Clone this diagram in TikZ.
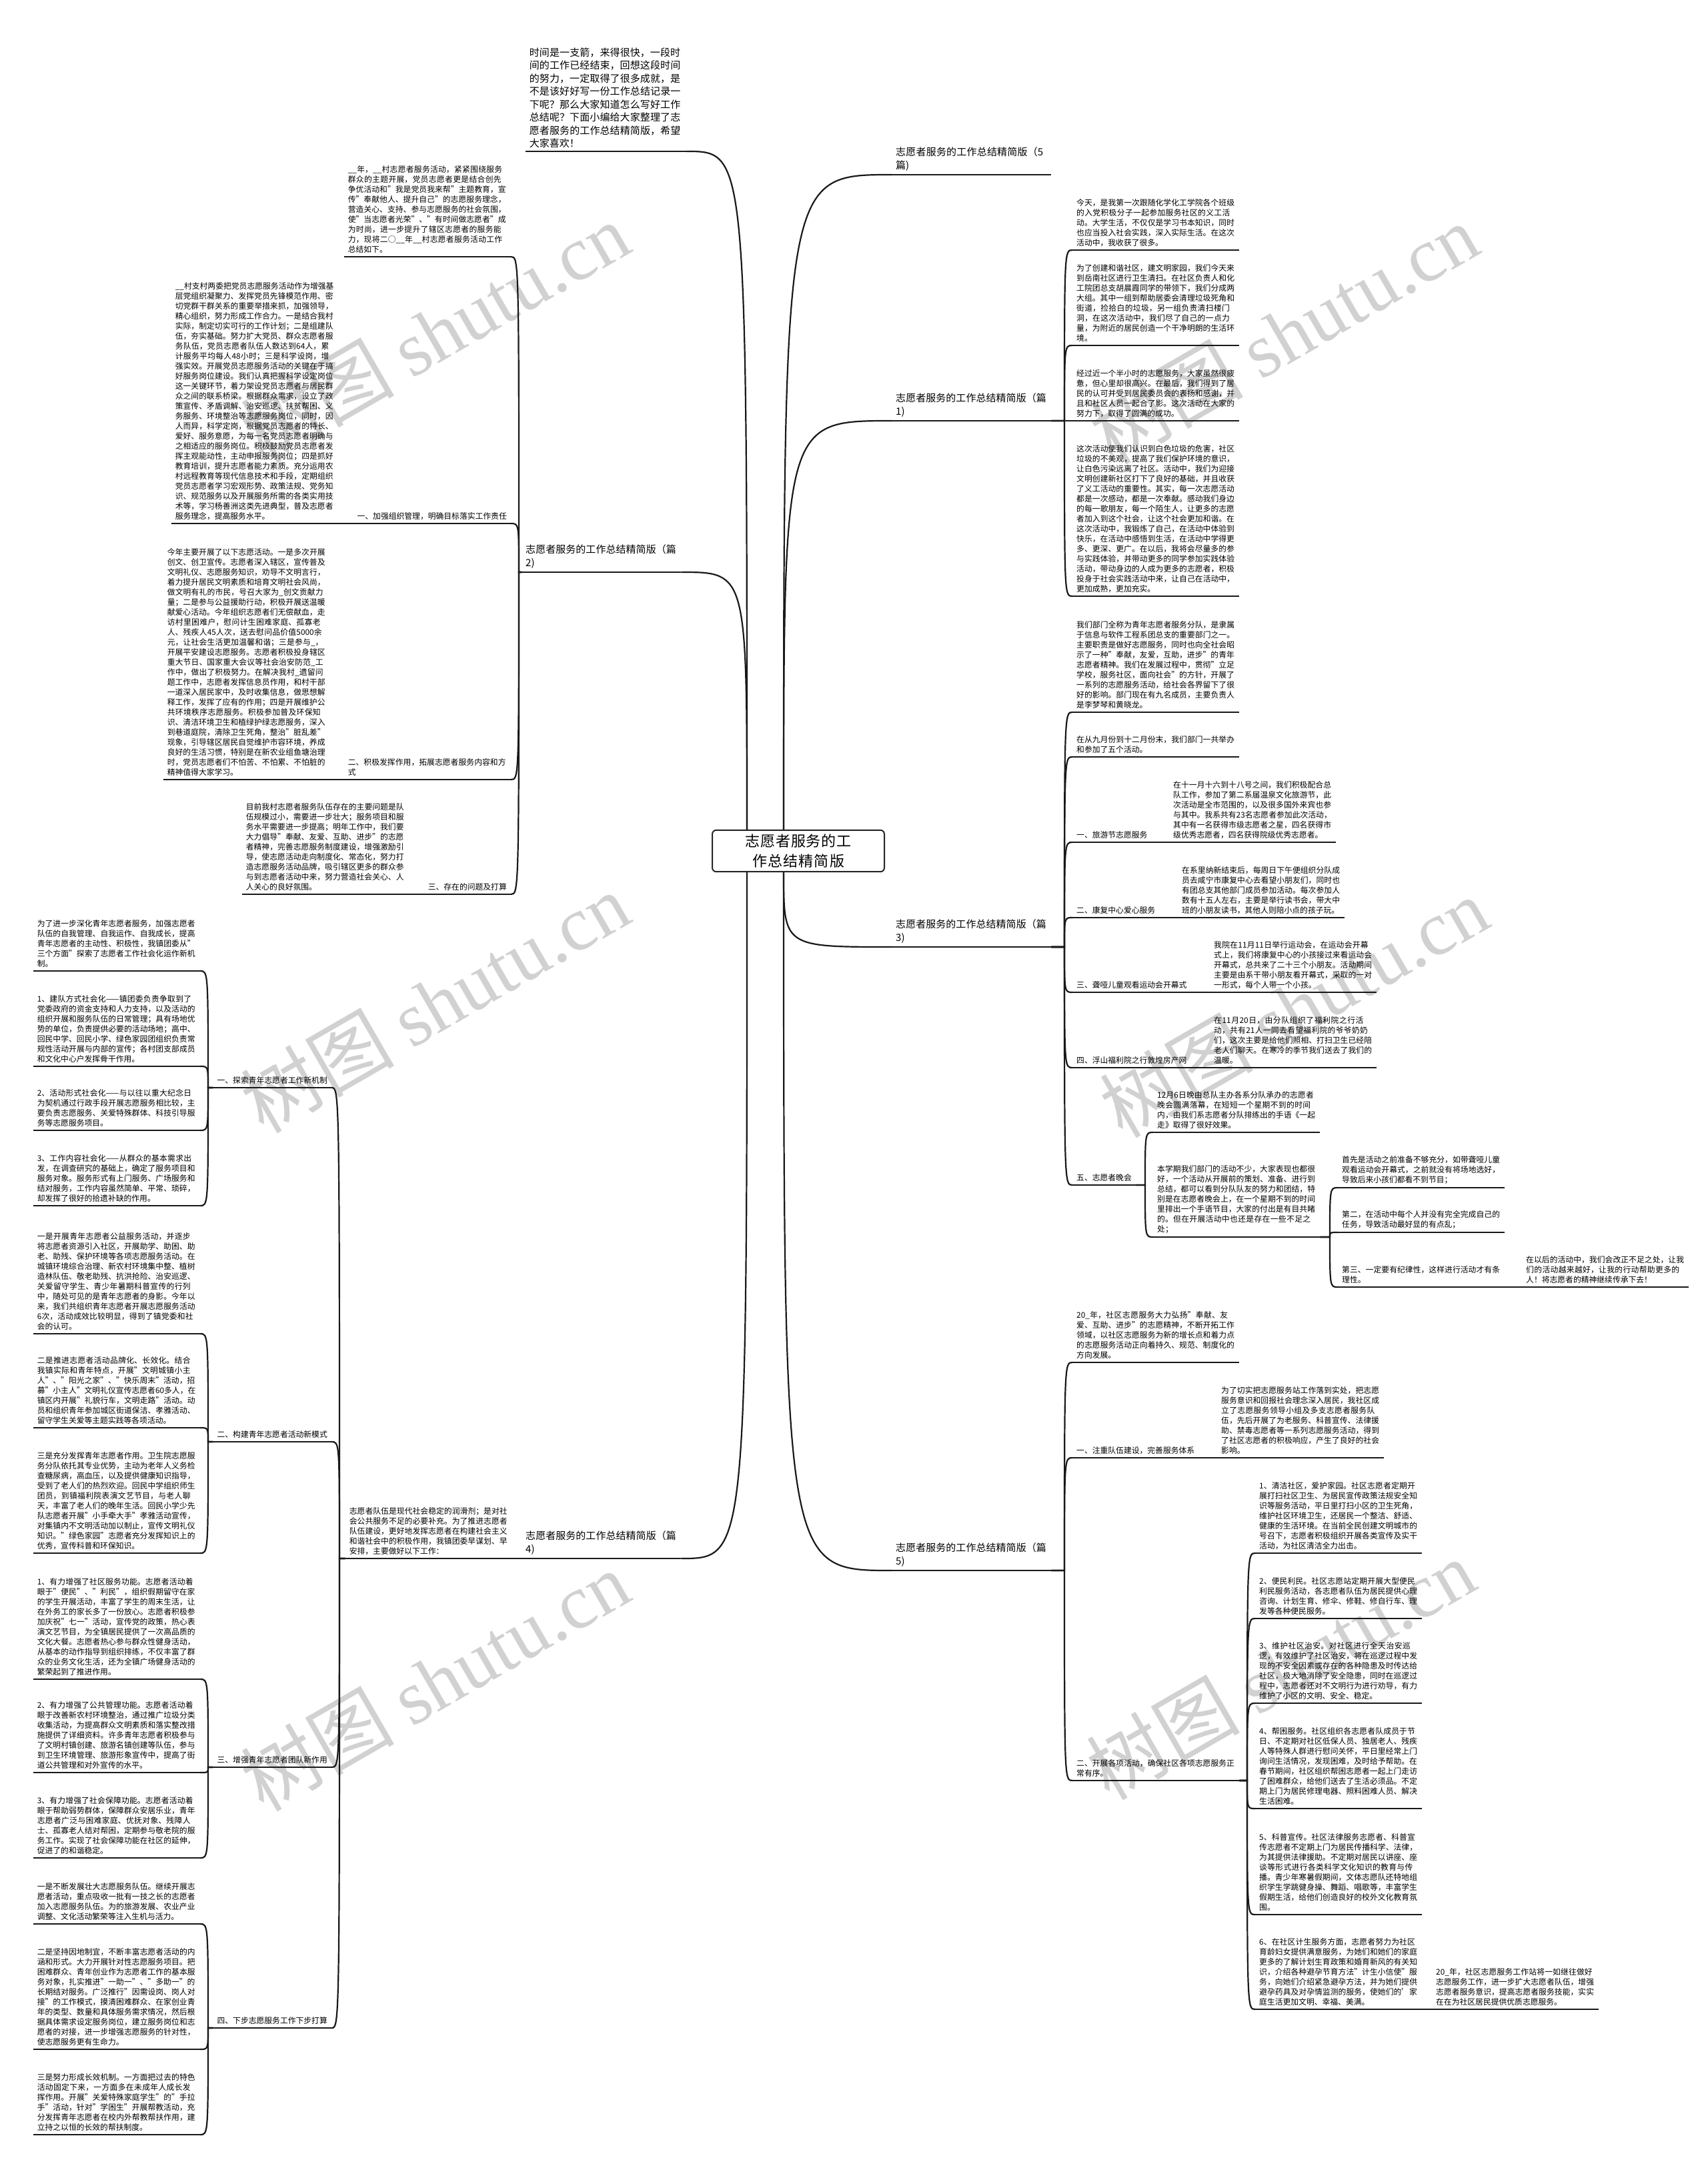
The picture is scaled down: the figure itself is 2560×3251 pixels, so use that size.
\documentclass[tikz,border=0pt]{standalone}
\usepackage{fontspec}
\setmainfont{Noto Sans CJK SC}
\newfontfamily\wmserif{Liberation Serif}
\XeTeXlinebreaklocale "zh"
\XeTeXlinebreakskip = 0pt plus 1pt
\usetikzlibrary{calc}

\tikzset{
  body/.style={inner xsep=6pt, inner ysep=5pt, text width=238pt, align=left,
    font=\fontsize{11.8pt}{15pt}\selectfont},
  sect/.style={inner xsep=6pt, inner ysep=5pt, align=left,
    font=\fontsize{11.8pt}{15pt}\selectfont},
  branch/.style={inner xsep=6pt, inner ysep=5pt, text width=227pt, align=left,
    font=\fontsize{15pt}{20pt}\selectfont},
  intro/.style={inner xsep=6pt, inner ysep=5pt, text width=230pt, align=left,
    font=\fontsize{15pt}{19.5pt}\selectfont},
  root/.style={draw=black!85, line width=2pt, rounded corners=6pt, inner xsep=7pt,
    inner ysep=6pt, text width=244pt, align=center, font=\fontsize{22pt}{30pt}\selectfont},
  uline/.style={line width=2.2pt, black!90},
  link/.style={line width=2.2pt, black!90},
  watermark/.style={text=black!18, rotate=30, font=\fontsize{115pt}{115pt}\selectfont},
}

% bracket links: right side (parent -> child), left side (parent -> child)
\newcommand{\linkR}[2]{\draw[link] (#1.south east) -- ($(#2.south west |- #1.south east)+(-12,0)$)
  .. controls ($(#2.south west)+(-12,0)$) .. (#2.south west);}
\newcommand{\linkL}[2]{\draw[link] (#1.south west) -- ($(#2.south east |- #1.south west)+(12,0)$)
  .. controls ($(#2.south east)+(12,0)$) .. (#2.south east);}

\begin{document}
\begin{tikzpicture}[x=1pt, y=-1pt]
  \useasboundingbox (0,0) rectangle (2560,3251);

  % ===== WATERMARKS =====
  \foreach \wx/\wy [count=\i] in {652/498, 1925/500, 652/1503, 1940/1510, 652/2520, 1920/2503}
    \node[watermark] (wm\i) at (\wx,\wy) {树图 {\wmserif shutu.cn}};

  % ===== ROOT =====
  \node[root] (root) at (1197,1276) {志愿者服务的工作总结精简版};
  \coordinate (rootTL) at ($(root.north)+(-77,0)$);
  \coordinate (rootTR) at ($(root.north)+(-22,0)$);
  \coordinate (rootBL) at ($(root.south)+(-77,0)$);
  \coordinate (rootBR) at ($(root.south)+(-22,0)$);

  % ===== INTRO (left top) =====
  \node[intro, anchor=south east] (L0) at (1030,227) {时间是一支箭，来得很快，一段时间的工作已经结束，回想这段时间的努力，一定取得了很多成就，是不是该好好写一份工作总结记录一下呢？那么大家知道怎么写好工作总结呢？下面小编给大家整理了志愿者服务的工作总结精简版，希望大家喜欢！};

  % ===== BRANCH LABELS =====
  \node[branch, anchor=south west] (R0) at (1337,262) {志愿者服务的工作总结精简版（5篇)};
  \node[branch, anchor=south west] (R1) at (1337,631) {志愿者服务的工作总结精简版（篇1)};
  \node[branch, anchor=south west] (L2) at (782,858) {志愿者服务的工作总结精简版（篇2)};
  \node[branch, anchor=south west] (R3) at (1337,1420) {志愿者服务的工作总结精简版（篇3)};
  \node[branch, anchor=south west] (L4) at (782,2337) {志愿者服务的工作总结精简版（篇4)};
  \node[branch, anchor=south west] (R5) at (1337,2355) {志愿者服务的工作总结精简版（篇5)};

  % ===== PART 1 =====
  \node[body, anchor=south west] (R1a) at (1608,375) {今天，是我第一次跟随化学化工学院各个班级的入党积极分子一起参加服务社区的义工活动。大学生活，不仅仅是学习书本知识，同时也应当投入社会实践，深入实际生活。在这次活动中，我收获了很多。};
  \node[body, anchor=south west] (R1b) at (1608,518) {为了创建和谐社区，建文明家园，我们今天来到岳南社区进行卫生清扫。在社区负责人和化工院团总支胡晨霞同学的带领下，我们分成两大组。其中一组到帮助居委会清理垃圾死角和街道，捡拾白的垃圾，另一组负责清扫楼门洞，在这次活动中，我们尽了自己的一点力量，为附近的居民创造一个干净明朗的生活环境。};
  \node[body, anchor=south west] (R1c) at (1608,631) {经过近一个半小时的志愿服务，大家虽然很疲惫，但心里却很高兴。在最后，我们得到了居民的认可并受到居民委员会的表扬和感谢，并且和社区人员一起合了影。这次活动在大家的努力下，取得了圆满的成功。};
  \node[body, anchor=south west] (R1d) at (1608,894) {这次活动使我们认识到白色垃圾的危害，社区垃圾的不美观，提高了我们保护环境的意识，让白色污染远离了社区。活动中，我们为迎接文明创建新社区打下了良好的基础，并且收获了义工活动的重要性。其实，每一次志愿活动都是一次感动，都是一次奉献。感动我们身边的每一歌朋友，每一个陌生人，让更多的志愿者加入到这个社会，让这个社会更加和谐。在这次活动中，我锻炼了自己，在活动中体验到快乐，在活动中感悟到生活，在活动中学得更多、更深、更广。在以后，我将会尽量多的参与实践体验，并带动更多的同学参加实践体验活动，带动身边的人成为更多的志愿者，积极投身于社会实践活动中来，让自己在活动中，更加成熟，更加充实。};

  % ===== PART 2 =====
  \node[body, anchor=south east] (L2t) at (766,385) {\_\_年，\_\_村志愿者服务活动，紧紧围绕服务群众的主题开展，党员志愿者更是结合创先争优活动和"我是党员我来帮"主题教育，宣传"奉献他人、提升自己"的志愿服务理念，营造关心、支持、参与志愿服务的社会氛围，使"当志愿者光荣"、"有时间做志愿者"成为时尚，进一步提升了辖区志愿者的服务能力，现将二○\_\_年\_\_村志愿者服务活动工作总结如下。};
  \node[sect, anchor=south east] (L2a) at (766,785) {一、加强组织管理，明确目标落实工作责任};
  \node[body, anchor=south east] (L2a1) at (507,785) {\_\_村支村两委把党员志愿服务活动作为增强基层党组织凝聚力、发挥党员先锋模范作用、密切党群干群关系的重要举措来抓，加强领导，精心组织，努力形成工作合力。一是结合我村实际，制定切实可行的工作计划；二是组建队伍，夯实基础。努力扩大党员、群众志愿者服务队伍，党员志愿者队伍人数达到64人，累计服务平均每人48小时；三是科学设岗，增强实效。开展党员志愿服务活动的关键在于搞好服务岗位建设。我们认真把握科学设定岗位这一关键环节，着力架设党员志愿者与居民群众之间的联系桥梁。根据群众需求，设立了政策宣传、矛盾调解、治安巡逻、扶贫帮困、义务服务、环境整治等志愿服务岗位，同时，因人而异，科学定岗，根据党员志愿者的特长、爱好、服务意愿，为每一名党员志愿者明确与之相适应的服务岗位。积极鼓励党员志愿者发挥主观能动性，主动申报服务岗位；四是抓好教育培训，提升志愿者能力素质。充分运用农村远程教育等现代信息技术和手段，定期组织党员志愿者学习宏观形势、政策法规、党务知识、规范服务以及开展服务所需的各类实用技术等，学习杨善洲这类先进典型，普及志愿者服务理念，提高服务水平。};
  \node[body, anchor=south east] (L2b) at (766,1169) {二、积极发挥作用，拓展志愿者服务内容和方式};
  \node[body, anchor=south east] (L2b1) at (495,1169) {今年主要开展了以下志愿活动。一是多次开展创文、创卫宣传。志愿者深入辖区，宣传普及文明礼仪、志愿服务知识，劝导不文明言行，着力提升居民文明素质和培育文明社会风尚，做文明有礼的市民，号召大家为\_创文贡献力量；二是参与公益援助行动，积极开展送温暖献爱心活动。今年组织志愿者们无偿献血，走访村里困难户，慰问计生困难家庭、孤寡老人、残疾人45人次，送去慰问品价值5000余元，让社会生活更加温馨和谐；三是参与\_，开展平安建设志愿服务。志愿者积极投身辖区重大节日、国家重大会议等社会治安防范\_工作中，做出了积极努力。在解决我村\_遗留问题工作中，志愿者发挥信息员作用，和村干部一道深入居民家中，及时收集信息，做思想解释工作，发挥了应有的作用；四是开展维护公共环境秩序志愿服务。积极参加普及环保知识、清洁环境卫生和植绿护绿志愿服务，深入到巷道庭院，清除卫生死角，整治"脏乱差"现象，引导辖区居民自觉维护市容环境，养成良好的生活习惯，特别是在新农业组鱼塘治理时，党员志愿者们不怕苦、不怕累、不怕脏的精神值得大家学习。};
  \node[sect, anchor=south east] (L2c) at (766,1341) {三、存在的问题及打算};
  \node[body, anchor=south east] (L2c1) at (613,1341) {目前我村志愿者服务队伍存在的主要问题是队伍规模过小，需要进一步壮大；服务项目和服务水平需要进一步提高；明年工作中，我们要大力倡导"奉献、友爱、互助、进步"的志愿者精神，完善志愿服务制度建设，增强激励引导，使志愿活动走向制度化、常态化，努力打造志愿服务活动品牌，吸引辖区更多的群众参与到志愿者活动中来，努力营造社会关心、人人关心的良好氛围。};

  % ===== PART 3 =====
  \node[body, anchor=south west] (R3a) at (1608,1068) {我们部门全称为青年志愿者服务分队，是隶属于信息与软件工程系团总支的重要部门之一。主要职责是做好志愿服务，同时也向全社会昭示了一种"奉献，友爱，互助，进步"的青年志愿者精神。我们在发展过程中，贯彻"立足学校，服务社区，面向社会"的方针，开展了一系列的志愿服务活动，给社会各界留下了很好的影响。部门现在有九名成员，主要负责人是李梦琴和黄晓龙。};
  \node[body, anchor=south west] (R3b) at (1608,1135) {在从九月份到十二月份末，我们部门一共举办和参加了五个活动。};
  \node[sect, anchor=south west] (R3c) at (1608,1263) {一、旅游节志愿服务};
  \node[body, anchor=south west] (R3c1) at (1753,1263) {在十一月十六到十八号之间，我们积极配合总队工作，参加了第二系届温泉文化旅游节，此次活动是全市范围的，以及很多国外来宾也参与其中。我系共有23名志愿者参加此次活动，其中有一名获得市级志愿者之星，四名获得市级优秀志愿者，四名获得院级优秀志愿者。};
  \node[sect, anchor=south west] (R3d) at (1608,1376) {二、康复中心爱心服务};
  \node[body, anchor=south west] (R3d1) at (1766,1376) {在系里纳新结束后，每周日下午便组织分队成员去咸宁市康复中心去看望小朋友们，同时也有团总支其他部门成员参加活动。每次参加人数有十五人左右，主要是举行读书会，带大中班的小朋友读书，其他人则陪小点的孩子玩。};
  \node[sect, anchor=south west] (R3e) at (1608,1488) {三、聋哑儿童观看运动会开幕式};
  \node[body, anchor=south west] (R3e1) at (1814,1488) {我院在11月11日举行运动会，在运动会开幕式上，我们将康复中心的小孩接过来看运动会开幕式，总共来了二十三个小朋友。活动期间主要是由系干带小朋友看开幕式，采取的一对一形式，每个人带一个小孩。};
  \node[sect, anchor=south west] (R3f) at (1608,1601) {四、浮山福利院之行敦煌房产网};
  \node[body, anchor=south west] (R3f1) at (1814,1601) {在11月20日，由分队组织了福利院之行活动，共有21人一同去看望福利院的爷爷奶奶们，这次主要是给他们照相、打扫卫生已经陪老人们聊天。在寒冷的季节我们送去了我们的温暖。};
  \node[sect, anchor=south west] (R3g) at (1608,1777) {五、志愿者晚会};
  \node[body, anchor=south west] (R3g1) at (1729,1698) {12月6日晚由总队主办各系分队承办的志愿者晚会圆满落幕，在短短一个星期不到的时间内，由我们系志愿者分队排练出的手语《一起走》取得了很好效果。};
  \node[body, anchor=south west] (R3g2) at (1729,1855) {本学期我们部门的活动不少，大家表现也都很好，一个活动从开展前的策划、准备、进行到总结，都可以看到分队队友的努力和团结，特别是在志愿者晚会上，在一个星期不到的时间里排出一个手语节目，大家的付出是有目共睹的。但在开展活动中也还是存在一些不足之处；};
  \node[body, anchor=south west] (R3g2a) at (2006,1781) {首先是活动之前准备不够充分，如带聋哑儿童观看运动会开幕式，之前就没有将场地选好，导致后来小孩们都看不到节目；};
  \node[body, anchor=south west] (R3g2b) at (2006,1848) {第二，在活动中每个人并没有完全完成自己的任务，导致活动最好显的有点乱；};
  \node[body, anchor=south west] (R3g2c) at (2006,1930) {第三、一定要有纪律性，这样进行活动才有条理性。};
  \node[body, anchor=south west] (R3g2c1) at (2282,1930) {在以后的活动中，我们会改正不足之处，让我们的活动越来越好，让我的行动帮助更多的人！将志愿者的精神继续传承下去！};

  % ===== PART 4 =====
  \node[body, anchor=south east] (L4h) at (768,2337) {志愿者队伍是现代社会稳定的润滑剂；是对社会公共服务不足的必要补充。为了推进志愿者队伍建设，更好地发挥志愿者在构建社会主义和谐社会中的积极作用，我镇团委早谋划、早安排，主要做好以下工作：};
  \node[sect, anchor=south east] (L4a) at (497,1631) {一、探索青年志愿者工作新机制};
  \node[body, anchor=south east] (L4a1) at (300,1456) {为了进一步深化青年志愿者服务，加强志愿者队伍的自我管理、自我运作、自我成长，提高青年志愿者的主动性、积极性，我镇团委从"三个方面"探索了志愿者工作社会化运作新机制。};
  \node[body, anchor=south east] (L4a2) at (300,1599) {1、建队方式社会化——镇团委负责争取到了党委政府的资金支持和人力支持，以及活动的组织开展和服务队伍的日常管理；具有场地优势的单位，负责提供必要的活动场地；高中、回民中学、回民小学、绿色家园团组织负责常规性活动开展与内部的宣传；各村团支部成员和文化中心户发挥骨干作用。};
  \node[body, anchor=south east] (L4a3) at (300,1695) {2、活动形式社会化——与以往以重大纪念日为契机通过行政手段开展志愿服务相比较，主要负责志愿服务、关爱特殊群体、科技引导服务等志愿服务项目。};
  \node[body, anchor=south east] (L4a4) at (300,1808) {3、工作内容社会化——从群众的基本需求出发，在调查研究的基础上，确定了服务项目和服务对象。服务形式有上门服务、广场服务和结对服务，工作内容虽然简单、平常、琐碎，却发挥了很好的拾遗补缺的作用。};
  \node[sect, anchor=south east] (L4b) at (497,2162) {二、构建青年志愿者活动新模式};
  \node[body, anchor=south east] (L4b1) at (300,2000) {一是开展青年志愿者公益服务活动，并逐步将志愿者资源引入社区，开展助学、助困、助老、助残、保护环境等各项志愿服务活动。在城镇环境综合治理、新农村环境集中整、植树造林队伍、敬老助残、抗洪抢险、治安巡逻、关爱留守学生、青少年暑期科普宣传的行列中，随处可见的是青年志愿者的身影。今年以来，我们共组织青年志愿者开展志愿服务活动6次，活动成效比较明显，得到了镇党委和社会的认可。};
  \node[body, anchor=south east] (L4b2) at (300,2141) {二是推进志愿者活动品牌化、长效化。结合我镇实际和青年特点，开展"文明城镇小主人"、"阳光之家"、"快乐周末"活动，招募"小主人"文明礼仪宣传志愿者60多人，在镇区内开展"礼貌行车，文明走路"活动。动员和组织青年参加城区街道保洁、孝雅活动、留守学生关爱等主题实践等各项活动。};
  \node[body, anchor=south east] (L4b3) at (300,2329) {三是充分发挥青年志愿者作用。卫生院志愿服务分队依托其专业优势，主动为老年人义务检查糖尿病，高血压，以及提供健康知识指导，受到了老人们的热烈欢迎。回民中学组织师生团员，到镇福利院表演文艺节目，与老人聊天，丰富了老人们的晚年生活。回民小学少先队志愿者开展"小手牵大手"孝雅活动宣传，对集镇内不文明活动加以制止，宣传文明礼仪知识。"绿色家园"志愿者充分发挥知识上的优秀，宣传科普和环保知识。};
  \node[sect, anchor=south east] (L4c) at (497,2650) {三、增强青年志愿者团队新作用};
  \node[body, anchor=south east] (L4c1) at (300,2518) {1、有力增强了社区服务功能。志愿者活动着眼于"便民"、"利民"，组织假期留守在家的学生开展活动，丰富了学生的周末生活，让在外务工的家长多了一份放心。志愿者积极参加庆祝"七一"活动，宣传党的政策，热心表演文艺节目，为全镇居民提供了一次高品质的文化大餐。志愿者热心参与群众性健身活动，从基本的动作指导到组织排练，不仅丰富了群众的业务文化生活，还为全镇广场健身活动的繁荣起到了推进作用。};
  \node[body, anchor=south east] (L4c2) at (300,2658) {2、有力增强了公共管理功能。志愿者活动着眼于改善新农村环境整治，通过推广垃圾分类收集活动，为提高群众文明素质和落实整改措施提供了详细资料。许多青年志愿者积极参与了文明村镇创建、旅游名镇创建等队伍，参与到卫生环境管理、旅游形象宣传中，提高了街道公共管理和对外宣传的水平。};
  \node[body, anchor=south east] (L4c3) at (300,2786) {3、有力增强了社会保障功能。志愿者活动着眼于帮助弱势群体，保障群众安居乐业，青年志愿者广泛与困难家庭、优抚对象、残障人士、孤寡老人结对帮困，定期参与敬老院的服务工作。实现了社会保障功能在社区的延伸，促进了的和谐稳定。};
  \node[sect, anchor=south east] (L4d) at (497,3041) {四、下步志愿服务工作下步打算};
  \node[body, anchor=south east] (L4d1) at (300,2885) {一是不断发展壮大志愿服务队伍。继续开展志愿者活动，重点吸收一批有一技之长的志愿者加入志愿服务队伍。为的旅游发展、农业产业调整、文化活动繁荣等注入生机与活力。};
  \node[body, anchor=south east] (L4d2) at (300,3073) {二是坚持因地制宜，不断丰富志愿者活动的内涵和形式。大力开展针对性志愿服务项目。把困难群众、青年创业作为志愿者工作的基本服务对象，扎实推进"一助一"、"多助一"的长期结对服务。广泛推行"因需设岗、岗人对接"的工作模式，摸清困难群众、在家创业青年的类型、数量和具体服务需求情况，然后根据具体需求设定服务岗位，建立服务岗位和志愿者的对接，进一步增强志愿服务的针对性，使志愿服务更有生命力。};
  \node[body, anchor=south east] (L4d3) at (300,3201) {三是努力形成长效机制。一方面把过去的特色活动固定下来，一方面多在未成年人成长发挥作用。开展"关爱特殊家庭学生"的"手拉手"活动，针对"学困生"开展帮教活动，充分发挥青年志愿者在校内外帮教帮扶作用，建立持之以恒的长效的帮扶制度。};

  % ===== PART 5 =====
  \node[body, anchor=south west] (R5a) at (1608,2043) {20\_年，社区志愿服务大力弘扬"奉献、友爱、互助、进步"的志愿精神，不断开拓工作领域，以社区志愿服务为新的增长点和着力点的志愿服务活动正向着持久、规范、制度化的方向发展。};
  \node[sect, anchor=south west] (R5b) at (1608,2186) {一、注重队伍建设，完善服务体系};
  \node[body, anchor=south west] (R5b1) at (1825,2186) {为了切实把志愿服务站工作落到实处，把志愿服务意识和回报社会理念深入居民，我社区成立了志愿服务领导小组及多支志愿者服务队伍，先后开展了为老服务、科普宣传、法律援助、禁毒志愿者等一系列志愿服务活动，得到了社区志愿者的积极响应，产生了良好的社会影响。};
  \node[body, anchor=south west] (R5c) at (1608,2670) {二、开展各项活动，确保社区各项志愿服务正常有序。};
  \node[body, anchor=south west] (R5c1) at (1882,2329) {1、清洁社区，爱护家园。社区志愿者定期开展打扫社区卫生、为居民宣传政策法规安全知识等服务活动，平日里打扫小区的卫生死角，维护社区环境卫生，还居民一个整洁、舒适、健康的生活环境。在当前全民创建文明城市的号召下，志愿者积极组织开展各类宣传及实干活动，为社区清洁全力出击。};
  \node[body, anchor=south west] (R5c2) at (1882,2427) {2、便民利民。社区志愿站定期开展大型便民利民服务活动，各志愿者队伍为居民提供心理咨询、计划生育、修伞、修鞋、修自行车、理发等各种便民服务。};
  \node[body, anchor=south west] (R5c3) at (1882,2554) {3、维护社区治安。对社区进行全天治安巡逻，有效维护了社区治安，将在巡逻过程中发现的不安全因素或存在的各种隐患及时传达给社区，极大地消除了安全隐患，同时在巡逻过程中，志愿者还对不文明行为进行劝导，有力维护了小区的文明、安全、稳定。};
  \node[body, anchor=south west] (R5c4) at (1882,2712) {4、帮困服务。社区组织各志愿者队成员于节日、不定期对社区低保人员、独居老人、残疾人等特殊人群进行慰问关怀，平日里经常上门询问生活情况，发现困难，及时给予帮助。在春节期间，社区组织帮困志愿者一起上门走访了困难群众，给他们送去了生活必须品。不定期上门为居民修理电器、照料困难人员、解决生活困难。};
  \node[body, anchor=south west] (R5c5) at (1882,2871) {5、科普宣传。社区法律服务志愿者、科普宣传志愿者不定期上门为居民传播科学、法律，为其提供法律援助。不定期对居民以讲座、座谈等形式进行各类科学文化知识的教育与传播。青少年寒暑假期间，文体志愿队还特地组织学生学跳健身操、舞蹈、唱歌等，丰富学生假期生活，给他们创造良好的校外文化教育氛围。};
  \node[body, anchor=south west] (R5c6) at (1882,3013) {6、在社区计生服务方面，志愿者努力为社区育龄妇女提供满意服务，为她们和她们的家庭更多的了解计划生育政策和婚育新风的有关知识，介绍各种避孕节育方法"计生小信使"服务，向她们介绍紧急避孕方法，并为她们提供避孕药具及对孕情监测的服务，使她们的'家庭生活更加文明、幸福、美满。};
  \node[body, anchor=south west] (R5c61) at (2147,3013) {20\_年，社区志愿服务工作站将一如继往做好志愿服务工作，进一步扩大志愿者队伍，增强志愿者服务意识，提高志愿者服务技能，实实在在为社区居民提供优质志愿服务。};

  % ===== UNDERLINES =====
  \foreach \n in {L0,R0,R1,L2,R3,L4,R5,
      R1a,R1b,R1c,R1d,
      L2t,L2a,L2a1,L2b,L2b1,L2c,L2c1,
      R3a,R3b,R3c,R3c1,R3d,R3d1,R3e,R3e1,R3f,R3f1,R3g,R3g1,R3g2,R3g2a,R3g2b,R3g2c,R3g2c1,
      L4h,L4a,L4a1,L4a2,L4a3,L4a4,L4b,L4b1,L4b2,L4b3,L4c,L4c1,L4c2,L4c3,L4d,L4d1,L4d2,L4d3,
      R5a,R5b,R5b1,R5c,R5c1,R5c2,R5c3,R5c4,R5c5,R5c6,R5c61}
    \draw[uline] (\n.south west) -- (\n.south east);

  % ===== ROOT LINKS =====
  \draw[link] (rootTL) .. controls (rootTL |- L0.south east) .. (L0.south east);
  \draw[link] (rootTL) .. controls (rootTL |- L2.south east) .. (L2.south east);
  \draw[link] (rootBL) .. controls (rootBL |- L4.south east) .. (L4.south east);
  \foreach \b in {R0,R1}
    \draw[link] (rootTR) .. controls (rootTR |- \b.south west) .. (\b.south west);
  \foreach \b in {R3,R5}
    \draw[link] (rootBR) .. controls (rootBR |- \b.south west) .. (\b.south west);

  % ===== BRANCH LINKS =====
  \foreach \c in {R1a,R1b,R1c,R1d} \linkR{R1}{\c};
  \foreach \c in {L2t,L2a,L2b,L2c} \linkL{L2}{\c};
  \linkL{L2a}{L2a1}; \linkL{L2b}{L2b1}; \linkL{L2c}{L2c1};
  \foreach \c in {R3a,R3b,R3c,R3d,R3e,R3f,R3g} \linkR{R3}{\c};
  \linkR{R3c}{R3c1}; \linkR{R3d}{R3d1}; \linkR{R3e}{R3e1}; \linkR{R3f}{R3f1};
  \foreach \c in {R3g1,R3g2} \linkR{R3g}{\c};
  \foreach \c in {R3g2a,R3g2b,R3g2c} \linkR{R3g2}{\c};
  \linkR{R3g2c}{R3g2c1};
  \linkL{L4}{L4h};
  \foreach \c in {L4a,L4b,L4c,L4d} \linkL{L4h}{\c};
  \foreach \c in {L4a1,L4a2,L4a3,L4a4} \linkL{L4a}{\c};
  \foreach \c in {L4b1,L4b2,L4b3} \linkL{L4b}{\c};
  \foreach \c in {L4c1,L4c2,L4c3} \linkL{L4c}{\c};
  \foreach \c in {L4d1,L4d2,L4d3} \linkL{L4d}{\c};
  \foreach \c in {R5a,R5b,R5c} \linkR{R5}{\c};
  \linkR{R5b}{R5b1};
  \foreach \c in {R5c1,R5c2,R5c3,R5c4,R5c5,R5c6} \linkR{R5c}{\c};
  \linkR{R5c6}{R5c61};
\end{tikzpicture}
\end{document}
